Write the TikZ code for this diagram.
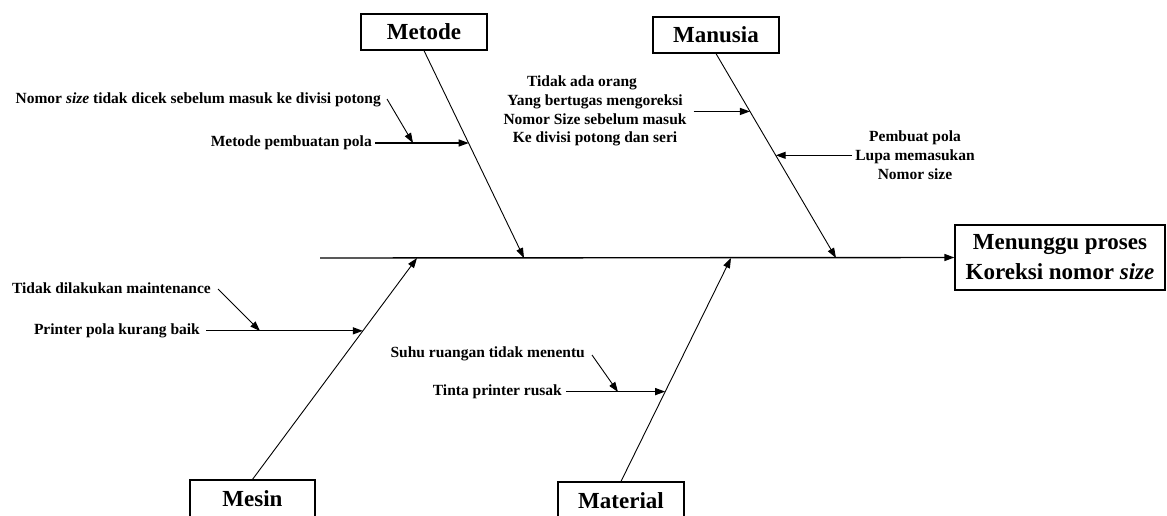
\documentclass[tikz,border=0pt]{standalone}
\usepackage{fontspec}
\setmainfont{Liberation Serif}
\usetikzlibrary{arrows.meta,calc}
\begin{document}
\begin{tikzpicture}[x=1pt,y=-1pt,
  catbox/.style={draw, line width=1.2pt, minimum width=126pt, minimum height=36pt,
    inner sep=0pt, font=\fontsize{23}{26}\selectfont\bfseries},
  cause/.style={font=\fontsize{15.5}{18.7}\selectfont\bfseries, inner sep=0pt, align=center},
  bone/.style={line width=0.9pt, -{Triangle[length=10pt,width=7pt]}},
  sub/.style={line width=1.2pt, -{Triangle[length=10pt,width=7pt]}},
  subthin/.style={line width=0.9pt, -{Triangle[length=10pt,width=7pt]}},
  spine/.style={line width=1.4pt, -{Triangle[length=10pt,width=7pt]}}]

\clip (0,0) rectangle (1167,515);
\fill[white] (0,0) rectangle (1167,515);

% category boxes and effect box
\node[catbox] (metode) at (424,32) {Metode};
\node[catbox] (manusia) at (716,35) {Manusia};
\node[catbox, minimum width=125pt, minimum height=38pt] (mesin) at (252.5,499) {Mesin};
\node[catbox, minimum height=38pt] (material) at (621,501) {Material};
\node[catbox, minimum width=210pt, minimum height=65pt, align=center,
  font=\fontsize{23}{30}\selectfont\bfseries] (effect) at (1060,257.5)
  {Menunggu proses\\Koreksi nomor \textit{size}};

% spine
\coordinate (tail) at (320,258);
\draw[spine] (tail) -- (effect.west);

% joints of the bones on the spine
\coordinate (jMet) at (524,258);
\coordinate (jMan) at (836,258);
\coordinate (jMes) at (417,258);
\coordinate (jMat) at (731,258);

\draw[bone] (metode.south) -- (jMet);
\draw[bone] (manusia.south) -- (jMan);
\draw[bone] (mesin.north) -- (jMes);
\draw[bone] (material.north) -- (jMat);

% Metode causes
\coordinate (pMet1) at ($(metode.south)!0.447!(jMet)$);
\node[cause, anchor=east] (c1) at (372,143) {Metode pembuatan pola};
\draw[sub] ([xshift=3pt]c1.east) -- (pMet1 |- c1.east);
\node[cause, anchor=east] (c2) at (381,100)
  {Nomor \textit{size} tidak dicek sebelum masuk ke divisi potong};
\coordinate (e2) at (413,143);
\draw[subthin] ([xshift=6pt,yshift=1pt]c2.east) -- (e2);

% Manusia causes
\coordinate (pMan1) at ($(manusia.south)!0.283!(jMan)$);
\node[cause] (c3) at (595,111)
  {Tidak ada orang\hspace*{26pt}\\Yang bertugas mengoreksi\\Nomor Size sebelum masuk\\Ke divisi potong dan seri};
\draw[sub] ([xshift=7pt]c3.east |- pMan1) -- (pMan1);
\coordinate (pMan2) at ($(manusia.south)!0.4976!(jMan)$);
\node[cause] (c4) at (915,155) {Pembuat pola\\Lupa memasukan\\Nomor size};
\draw[sub] ([xshift=-3pt]c4.west |- pMan2) -- (pMan2);

% Mesin causes
\coordinate (pMes1) at ($(mesin.north)!0.671!(jMes)$);
\node[cause, anchor=east] (c5) at (200,331) {Printer pola kurang baik};
\draw[sub] ([xshift=6pt]c5.east |- pMes1) -- (pMes1);
\node[cause, anchor=east] (c6) at (211,288) {Tidak dilakukan maintenance};
\coordinate (e6) at (260,331);
\draw[subthin] ([xshift=7pt,yshift=-1pt]c6.east) -- (e6);

% Material causes
\coordinate (pMat1) at ($(material.north)!0.402!(jMat)$);
\node[cause, anchor=east] (c7) at (562,392) {Tinta printer rusak};
\draw[sub] ([xshift=4pt]c7.east |- pMat1) -- (pMat1);
\node[cause, anchor=east] (c8) at (585,354) {Suhu ruangan tidak menentu};
\coordinate (e8) at (618,392);
\draw[subthin] ([xshift=7pt,yshift=-1pt]c8.east) -- (e8);
\end{tikzpicture}
\end{document}
